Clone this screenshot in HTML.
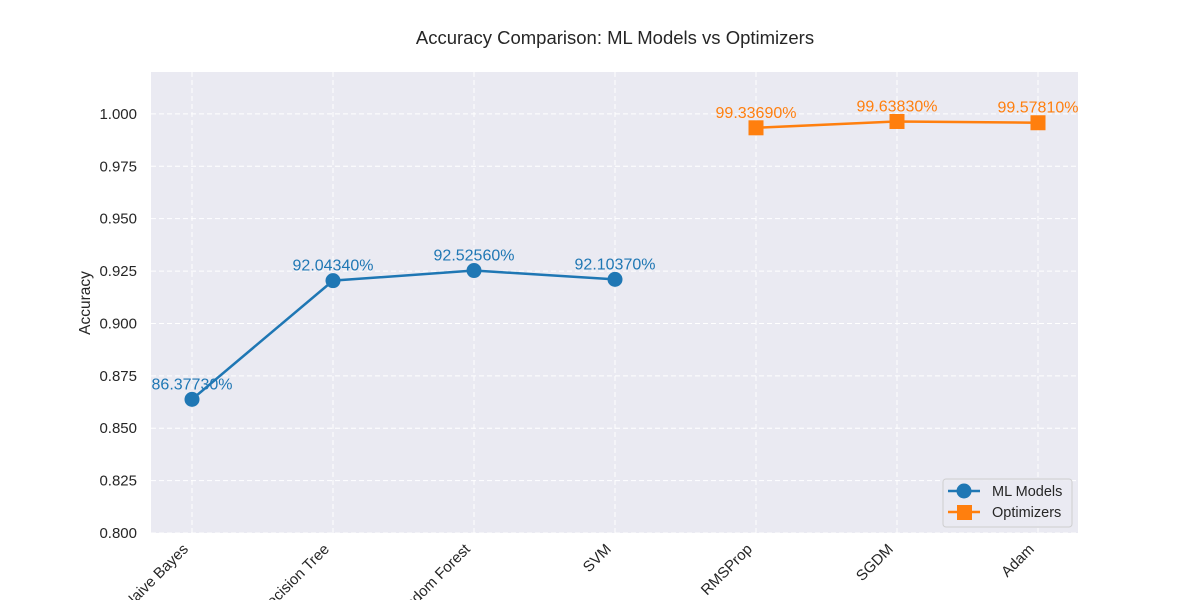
<!DOCTYPE html>
<html><head><meta charset="utf-8"><style>
body{margin:0;background:#fff;font-family:"Liberation Sans",Arial,sans-serif}
svg text{font-family:"Liberation Sans",Arial,sans-serif}
</style></head><body>
<svg id="chart" width="1200" height="600">
<text x="615" y="44" text-anchor="middle" font-size="18.5" fill="#262626">Accuracy Comparison: ML Models vs Optimizers</text>
<rect x="151" y="72" width="927" height="461" fill="#eaeaf2"/>
<g id="grid"></g><g id="axes"></g><g id="series"></g>
<text transform="translate(90,303) rotate(-90)" text-anchor="middle" font-size="15.5" fill="#262626">Accuracy</text>
<g>
<rect x="943" y="479" width="129" height="48" rx="3" fill="#eaeaf2" stroke="#cccccc" opacity="0.9"/>
<line x1="948" y1="491" x2="980" y2="491" stroke="#1f77b4" stroke-width="2.5"/>
<circle cx="964" cy="491" r="7.5" fill="#1f77b4"/>
<text x="992" y="496" font-size="14.5" fill="#262626">ML Models</text>
<line x1="948" y1="512" x2="980" y2="512" stroke="#ff7f0e" stroke-width="2.5"/>
<rect x="957" y="505" width="15" height="15" fill="#ff7f0e"/>
<text x="992" y="517" font-size="14.5" fill="#262626">Optimizers</text>
</g>
</svg>
<script>
const categories=["Naive Bayes","Decision Tree","Random Forest","SVM","RMSProp","SGDM","Adam"];
const mlValues=[0.863773,0.920434,0.925256,0.921037];
const optValues=[0.993369,0.996383,0.995781];
const yTicks=[0.800,0.825,0.850,0.875,0.900,0.925,0.950,0.975,1.000];
const NS="http://www.w3.org/2000/svg";
const X=i=>192+i*141;
const Y=v=>533-(v-0.8)/0.22*461;
function mk(tag,attrs,parent,text){const e=document.createElementNS(NS,tag);for(const k in attrs)e.setAttribute(k,attrs[k]);if(text!==undefined)e.textContent=text;parent.appendChild(e);return e;}
const grid=document.getElementById('grid'),axes=document.getElementById('axes'),ser=document.getElementById('series');
yTicks.forEach(t=>{
 const l=mk('line',{x1:151,x2:1078,y1:Y(t),y2:Y(t),stroke:'#fff','stroke-dasharray':'5,3'},grid);
 
 
 const tx=mk('text',{x:137,y:Y(t)+5,'text-anchor':'end','font-size':15,fill:'#262626'},axes,t.toFixed(3));
 
 
});
categories.forEach((c,i)=>{
 const l=mk('line',{x1:X(i),x2:X(i),y1:72,y2:533,stroke:'#fff','stroke-dasharray':'5,3'},grid);
 
 
 const ax=X(i)-3, ay=550;
 const tx=mk('text',{x:ax,y:ay,'text-anchor':'end','font-size':15,fill:'#262626',transform:`rotate(-45 ${ax} ${ay})`},axes,c);
 
 
});
function series(vals,offset,color,shape,name){
 const pts=vals.map((v,i)=>[X(i+offset),Y(v)]);
 const pl=mk('polyline',{points:pts.map(p=>p.join(',')).join(' '),fill:'none',stroke:color,'stroke-width':2.5},ser);
 
 
 vals.forEach((v,i)=>{
  const [x,y]=pts[i];let m;
  if(shape==='c')m=mk('circle',{cx:x,cy:y,r:7.5,fill:color},ser);
  else m=mk('rect',{x:x-7.5,y:y-7.5,width:15,height:15,fill:color},ser);
  
  
  const t=mk('text',{x:x,y:y-10,'text-anchor':'middle','font-size':16,fill:color},ser,(v*100).toFixed(5)+'%');
  
  
 });
}
series(mlValues,0,'#1f77b4','c','ml-models');
series(optValues,4,'#ff7f0e','s','optimizers');
</script>
</body></html>
